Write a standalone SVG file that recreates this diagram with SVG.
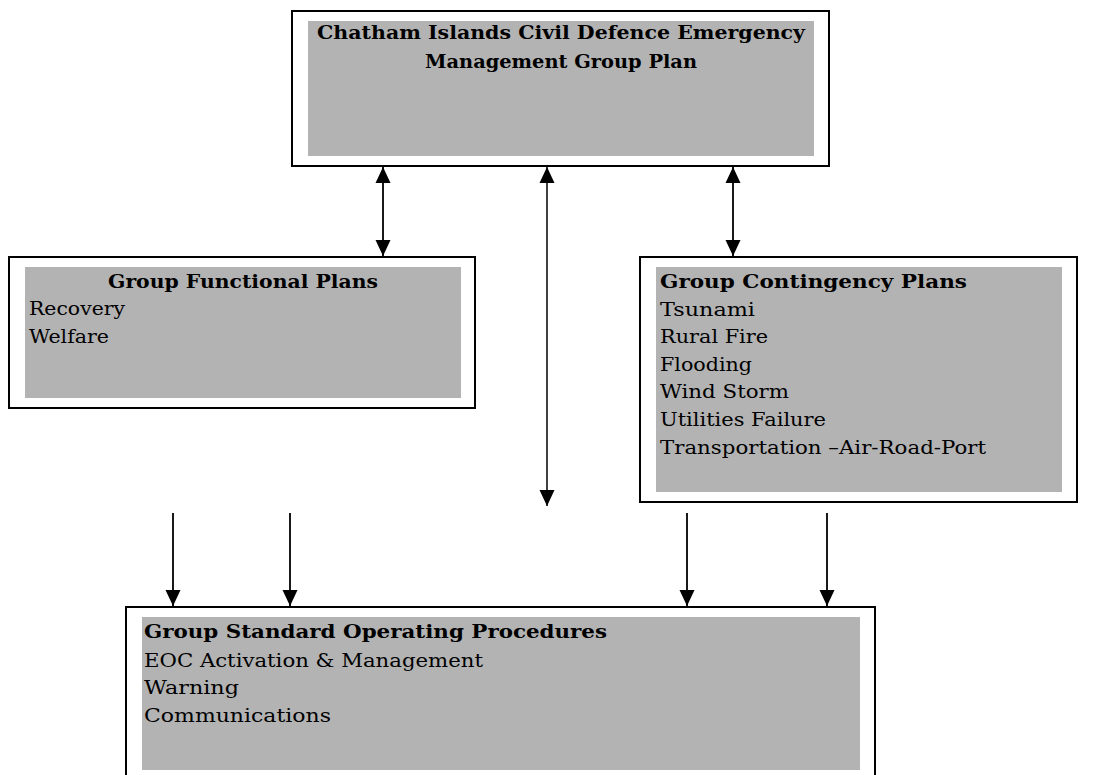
<svg xmlns="http://www.w3.org/2000/svg" width="1107" height="775" viewBox="0 0 1107 775">
<style>
.frame{fill:#fff;stroke:#000;stroke-width:2}
.fill{fill:#b3b3b3}
.h{font-family:"DejaVu Serif","Liberation Serif",serif;font-weight:bold;font-size:18px;fill:#000}
.t{font-family:"DejaVu Serif","Liberation Serif",serif;font-size:18px;fill:#000}
.c{stroke:#000;stroke-width:1.8;fill:none}
</style>
<defs>
<marker id="ah" markerUnits="userSpaceOnUse" markerWidth="16" markerHeight="16" refX="16" refY="7.5" orient="auto-start-reverse" viewBox="0 0 16 15">
<path d="M0,0 L16,7.5 L0,15 z" fill="#000"/>
</marker>
</defs>
<rect x="0" y="0" width="1107" height="775" fill="#fff"/>
<g id="connectors">
<line class="c" x1="383" y1="167" x2="383" y2="256" marker-start="url(#ah)" marker-end="url(#ah)"/>
<line class="c" x1="547" y1="167" x2="547" y2="506" marker-start="url(#ah)" marker-end="url(#ah)" style="stroke-width:1.5"/>
<line class="c" x1="733" y1="167" x2="733" y2="256" marker-start="url(#ah)" marker-end="url(#ah)"/>
<line class="c" x1="173" y1="513" x2="173" y2="606" marker-end="url(#ah)"/>
<line class="c" x1="290" y1="513" x2="290" y2="606" marker-end="url(#ah)"/>
<line class="c" x1="687" y1="513" x2="687" y2="606" marker-end="url(#ah)"/>
<line class="c" x1="827" y1="513" x2="827" y2="606" marker-end="url(#ah)"/>
</g>
<g id="group-plan">
<rect class="frame" x="292" y="11" width="537" height="155"/>
<rect class="fill" x="308" y="21" width="506" height="135"/>
<text class="h" x="561" y="39" text-anchor="middle" textLength="488" lengthAdjust="spacingAndGlyphs">Chatham Islands Civil Defence Emergency</text>
<text class="h" x="561" y="68" text-anchor="middle" textLength="272" lengthAdjust="spacingAndGlyphs">Management Group Plan</text>
</g>
<g id="functional-plans">
<rect class="frame" x="9" y="257" width="466" height="151"/>
<rect class="fill" x="25" y="267" width="436" height="131"/>
<text class="h" x="243" y="288" text-anchor="middle" textLength="270" lengthAdjust="spacingAndGlyphs">Group Functional Plans</text>
<text class="t" x="29" y="315" textLength="96" lengthAdjust="spacingAndGlyphs">Recovery</text>
<text class="t" x="29" y="343" textLength="80" lengthAdjust="spacingAndGlyphs">Welfare</text>
</g>
<g id="contingency-plans">
<rect class="frame" x="640" y="257" width="437" height="245"/>
<rect class="fill" x="656" y="267" width="406" height="225"/>
<text class="h" x="660" y="288" textLength="307" lengthAdjust="spacingAndGlyphs">Group Contingency Plans</text>
<text class="t" x="660" y="316" textLength="95" lengthAdjust="spacingAndGlyphs">Tsunami</text>
<text class="t" x="660" y="343" textLength="108" lengthAdjust="spacingAndGlyphs">Rural Fire</text>
<text class="t" x="660" y="371" textLength="92" lengthAdjust="spacingAndGlyphs">Flooding</text>
<text class="t" x="660" y="398" textLength="129" lengthAdjust="spacingAndGlyphs">Wind Storm</text>
<text class="t" x="660" y="426" textLength="166" lengthAdjust="spacingAndGlyphs">Utilities Failure</text>
<text class="t" x="660" y="454" textLength="326" lengthAdjust="spacingAndGlyphs">Transportation –Air-Road-Port</text>
</g>
<g id="sop">
<rect class="frame" x="126" y="607" width="749" height="190"/>
<rect class="fill" x="142" y="617" width="718" height="153"/>
<text class="h" x="144" y="638" textLength="463" lengthAdjust="spacingAndGlyphs">Group Standard Operating Procedures</text>
<text class="t" x="144" y="667" textLength="339" lengthAdjust="spacingAndGlyphs">EOC Activation &amp; Management</text>
<text class="t" x="144" y="694" textLength="95" lengthAdjust="spacingAndGlyphs">Warning</text>
<text class="t" x="144" y="722" textLength="187" lengthAdjust="spacingAndGlyphs">Communications</text>
</g>
</svg>
